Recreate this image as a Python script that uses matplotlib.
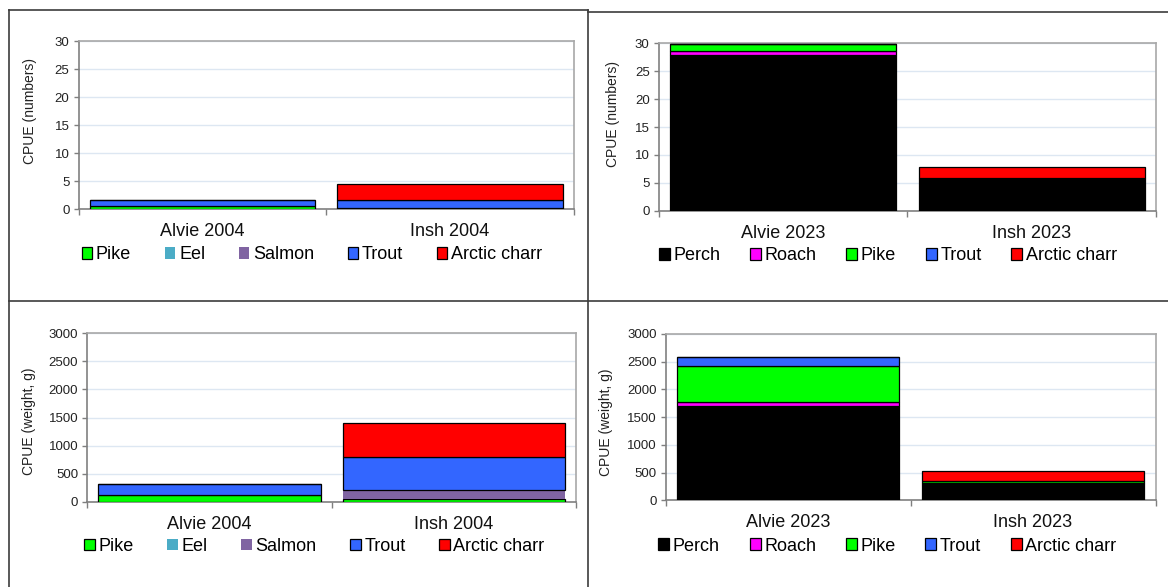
import matplotlib
matplotlib.use("Agg")
import numpy as np
import matplotlib.pyplot as plt
from matplotlib.lines import Line2D

plt.rcParams['font.family'] = ['Liberation Sans', 'DejaVu Sans']

# Sites and species per survey
sites_2004 = ["Alvie 2004", "Insh 2004"]
sites_2023 = ["Alvie 2023", "Insh 2023"]
species_2004 = ["Pike", "Eel", "Salmon", "Trout", "Arctic charr"]
species_2023 = ["Perch", "Roach", "Pike", "Trout", "Arctic charr"]

# CPUE numbers, values per site (Alvie, Insh)
num_2004 = {
    "Pike": [0.6, 0.3],
    "Eel": [0.0, 0.0],
    "Salmon": [0.0, 0.0],
    "Trout": [1.15, 1.35],
    "Arctic charr": [0.0, 2.9],
}
num_2023 = {
    "Perch": [27.85, 5.9],
    "Roach": [0.8, 0.0],
    "Pike": [1.2, 0.0],
    "Trout": [0.0, 0.0],
    "Arctic charr": [0.0, 1.85],
}

# CPUE weight (g), values per site (Alvie, Insh)
wt_2004 = {
    "Pike": [118, 55],
    "Eel": [0, 0],
    "Salmon": [0, 152],
    "Trout": [204, 595],
    "Arctic charr": [0, 598],
}
wt_2023 = {
    "Perch": [1710, 305],
    "Roach": [68, 0],
    "Pike": [640, 52],
    "Trout": [172, 0],
    "Arctic charr": [0, 163],
}

colors = {
    "Perch": "#000000",
    "Roach": "#ff00ff",
    "Pike": "#00ff00",
    "Eel": "#4bacc6",
    "Salmon": "#8064a2",
    "Trout": "#3366ff",
    "Arctic charr": "#ff0000",
}
no_edge = ["Eel", "Salmon"]

FW, FH = 1168, 587


def px_rect(left, top, right, bottom):
    # pixel box -> figure fraction rect
    return [left / FW, 1 - bottom / FH, (right - left) / FW, (bottom - top) / FH]


def draw_panel(ax, sites, species, values, ymax, ystep, ylabel, ylab_xy, leg_xy, colspace):
    x = np.arange(len(sites))
    bottom = np.zeros(len(sites))
    for name in species:
        vals = np.array(values[name], dtype=float)
        edge = "none" if name in no_edge else "black"
        ax.bar(x, vals, 0.91, bottom=bottom, color=colors[name], edgecolor=edge,
               linewidth=0.9, label=name, zorder=3)
        bottom += vals

    ax.set_xlim(-0.5, len(sites) - 0.5)
    ax.set_ylim(0, ymax)
    ax.set_yticks(np.arange(0, ymax + ystep / 2, ystep))
    ax.yaxis.grid(True, color="#dde7f2", linewidth=1.0, zorder=0)
    ax.set_axisbelow(True)

    ax.set_xticks(x)
    ax.set_xticklabels(sites, fontsize=13, color="#111111")
    ax.set_xticks(np.arange(-0.5, len(sites)), minor=True)
    ax.tick_params(axis="x", which="major", length=0, pad=10)
    ax.tick_params(axis="x", which="minor", length=4.5, width=1.0, color="#7f7f7f")
    ax.tick_params(axis="y", length=3.5, width=1.0, color="#7f7f7f",
                   labelsize=9.5, labelcolor="#222222", pad=3)

    for side in ["left", "bottom"]:
        ax.spines[side].set_color("#808080")
        ax.spines[side].set_linewidth(1.2)
    for side in ["top", "right"]:
        ax.spines[side].set_color("#a8a8a8")
        ax.spines[side].set_linewidth(1.2)

    ax.text(ylab_xy[0], ylab_xy[1], ylabel, rotation=90, ha="center", va="center",
            fontsize=10, color="#222222", transform=ax.transAxes)

    ax.legend(loc="center", bbox_to_anchor=leg_xy, ncol=len(species), frameon=False,
              fontsize=13, handlelength=0.6, handleheight=0.6, handletextpad=0.2,
              columnspacing=colspace, borderaxespad=0)


fig = plt.figure(figsize=(FW / 100, FH / 100), dpi=100)

ax_tl = fig.add_axes(px_rect(78.5, 41.3, 574, 209.3))
ax_tr = fig.add_axes(px_rect(658.7, 43.3, 1156, 210.7))
ax_bl = fig.add_axes(px_rect(87.3, 333.3, 576, 501.7))
ax_br = fig.add_axes(px_rect(665.5, 334, 1155.5, 500.3))

draw_panel(ax_tl, sites_2004, species_2004, num_2004, 30, 5, "CPUE (numbers)",
           (-0.097, 0.585), (0.471, -0.272), 1.85)
draw_panel(ax_tr, sites_2023, species_2023, num_2023, 30, 5, "CPUE (numbers)",
           (-0.092, 0.58), (0.461, -0.27), 1.65)
draw_panel(ax_bl, sites_2004, species_2004, wt_2004, 3000, 500, "CPUE (weight, g)",
           (-0.12, 0.475), (0.464, -0.265), 1.85)
draw_panel(ax_br, sites_2023, species_2023, wt_2023, 3000, 500, "CPUE (weight, g)",
           (-0.121, 0.47), (0.453, -0.275), 1.65)

# frame lines separating the four panels
frame = [
    ((8.5, 9.5), (588, 9.5)),
    ((8.5, 9.5), (8.5, 587)),
    ((588, 9.5), (588, 587)),
    ((588, 11.5), (1168, 11.5)),
    ((8.5, 300.5), (1168, 300.5)),
]
for (x0, y0), (x1, y1) in frame:
    fig.add_artist(Line2D([x0 / FW, x1 / FW], [1 - y0 / FH, 1 - y1 / FH],
                          transform=fig.transFigure, color="#3c3c3c", linewidth=1.2))

fig.savefig("out.png", dpi=100, facecolor="white")
